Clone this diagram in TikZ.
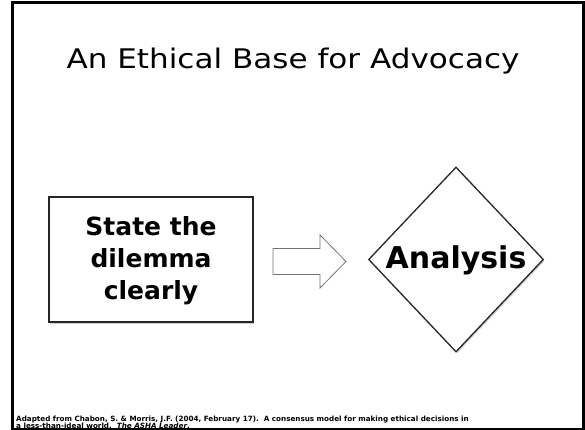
\documentclass[tikz,border=0pt]{standalone}
\usepackage{fontspec}
\setmainfont{DejaVu Sans}
\newfontfamily\widesans[FakeStretch=1.15]{DejaVu Sans}
\usetikzlibrary{shapes.geometric,shadows}

\tikzset{
  frame/.style={line width=3.5pt, draw=black},
  stepbox/.style={draw=black!85, line width=1.3pt, fill=white,
    minimum width=204pt, minimum height=125pt, inner sep=0pt,
    drop shadow={shadow xshift=1.2pt, shadow yshift=-1.5pt, opacity=0.35}},
  decision/.style={diamond, draw=black!85, line width=1.3pt, fill=white,
    minimum width=175pt, minimum height=185pt, inner sep=0pt,
    drop shadow={shadow xshift=1.2pt, shadow yshift=-1.5pt, opacity=0.35}},
  blockarrow/.style={draw=black!55, line width=0.8pt, fill=white, line join=miter},
  boldlabel/.style={align=center, inner sep=0pt},
}

\begin{document}
\begin{tikzpicture}[x=1pt, y=-1pt]
  \useasboundingbox (0,0) rectangle (585,430);
  \fill[white] (0,0) rectangle (585,430);

  % title
  \node[anchor=base, font=\widesans\fontsize{27}{30}\selectfont] (title) at (293,69)
    {An Ethical Base for Advocacy};

  % first step
  \node[stepbox] (state) at (151,259.5) {};
  \node[boldlabel, font=\fontsize{25}{32}\selectfont\bfseries] (statetext)
    at ([yshift=-1.5pt]state.center) {State the\\dilemma\\clearly};

  % block arrow between the steps
  \coordinate (arrowtail) at (273,261.5);
  \draw[blockarrow] ([yshift=-13pt]arrowtail) -- ++(47,0) -- ++(0,13.5)
    -- ++(26,-26.5) -- ++(-26,-26.5) -- ++(0,13.5) -- ++(-47,0) -- cycle;

  % second step
  \node[decision] (analysis) at (456,259.5) {};
  \node[boldlabel, font=\fontsize{30}{34}\selectfont\bfseries] (analysistext)
    at ([yshift=-1pt]analysis.center) {Analysis};

  % reference line
  \node[anchor=base west, align=left, inner sep=0pt,
        font=\fontsize{7.2}{7.4}\selectfont\bfseries] (source) at (16,428.6)
    {Adapted from Chabon, S. \& Morris, J.F. (2004, February 17).\ \ A consensus model for making ethical decisions in\\
     a less-than-ideal world.\ \ \textit{The ASHA Leader}.};

  % slide frame
  \draw[frame] (12.5,2.5) rectangle (583.5,429.5);
\end{tikzpicture}
\end{document}
